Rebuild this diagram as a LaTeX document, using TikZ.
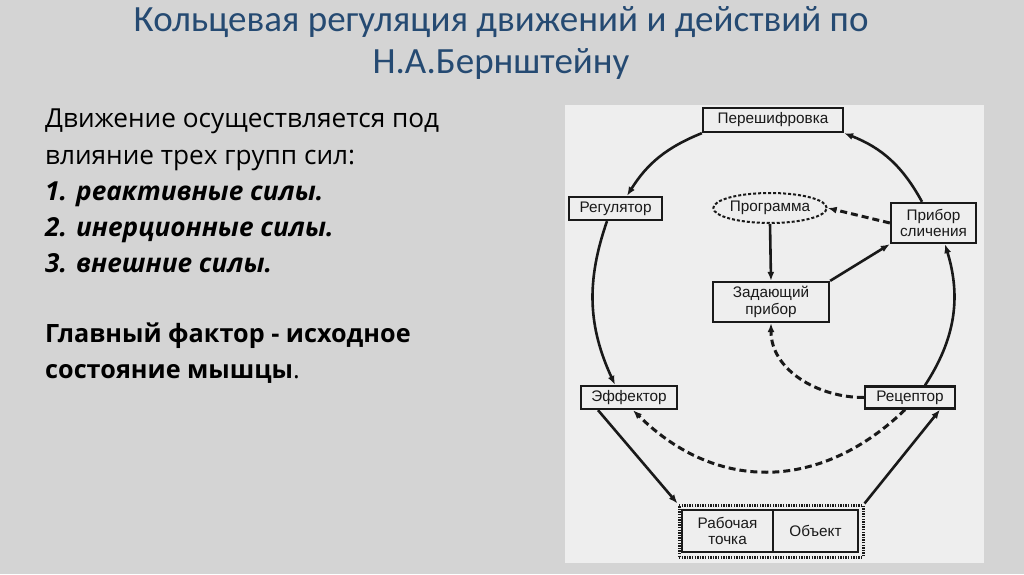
\documentclass[tikz,border=0pt]{standalone}
\usepackage{fontspec}
\setmainfont{Open Sans}
\newfontfamily\titlefont{Carlito}
\newfontfamily\boxfont{Liberation Sans}
\usetikzlibrary{arrows.meta,shapes.geometric}
\definecolor{slidebg}{RGB}{212,212,212}
\definecolor{panelbg}{RGB}{238,238,238}
\definecolor{titleblue}{RGB}{37,74,114}
\definecolor{ink}{RGB}{25,25,25}
\begin{document}
\begin{tikzpicture}[x=1pt,y=1pt,
  box/.style={draw=ink,line width=2.3pt,fill=panelbg,inner sep=0pt,align=center,
    font=\boxfont\fontsize{15.3}{16.5}\selectfont,text=ink},
  conn/.style={draw=ink,line width=2.6pt,-{Latex[length=9pt,width=7pt]}},
  dconn/.style={conn,line width=3pt,dash pattern=on 7pt off 4pt},
  lefttext/.style={anchor=base west,inner sep=0pt,text=black,font=\fontsize{26.2}{30}\selectfont},
  titletext/.style={anchor=base,inner sep=0pt,text=titleblue,font=\titlefont\fontsize{37}{44}\selectfont}]
\useasboundingbox[fill=slidebg] (0,0) rectangle (1024,574);
% title
\node[titletext] (title1) at (501,542) {Кольцевая регуляция движений и действий по};
\node[titletext] (title2) at (501,500) {Н.А.Бернштейну};
% left text
\node[lefttext] (t1) at (45,446) {Движение осуществляется под};
\node[lefttext] (t2) at (45,409.5) {влияние трех групп сил:};
\node[lefttext] (t3) at (45,373.5) {\bfseries\itshape 1. реактивные силы.};
\node[lefttext] (t4) at (45,337.5) {\bfseries\itshape 2. инерционные силы.};
\node[lefttext] (t5) at (45,301.5) {\bfseries\itshape 3. внешние силы.};
\node[lefttext,font=\fontsize{25.2}{30}\selectfont] (t6) at (45,232) {\bfseries Главный фактор - исходное};
\node[lefttext,font=\fontsize{25.2}{30}\selectfont] (t7) at (45,196) {\textbf{состояние мышцы}.};
% panel
\fill[panelbg] (565,11) rectangle (984,469);
% nodes
\node[box,minimum width=140pt,minimum height=24pt] (pere) at (773,454) {Перешифровка};
\node[box,minimum width=93pt,minimum height=23pt] (reg) at (615.5,365.5) {Регулятор};
\node[ellipse,draw=ink,dash pattern=on 3pt off 2pt,line width=2pt,fill=panelbg,
  minimum width=106pt,minimum height=30pt,inner sep=0pt,
  font=\boxfont\fontsize{15.3}{16.5}\selectfont,text=ink] (prog) at (770,366) {Программа};
\node[box,minimum width=85pt,minimum height=40pt] (prib) at (933.5,351) {Прибор\\сличения};
\node[box,minimum width=116pt,minimum height=40pt] (zad) at (771,272) {Задающий\\прибор};
\node[box,minimum width=96pt,minimum height=23pt] (eff) at (629,176.5) {Эффектор};
\node[box,minimum width=90pt,minimum height=22pt] (rec) at (910,176.5) {Рецептор};
\node[draw=ink,line width=3pt,dash pattern=on 1.4pt off 1.2pt,fill=panelbg,
  minimum width=184pt,minimum height=52pt,inner sep=0pt] (wp) at (771,43) {};
\node[box,minimum width=91pt,minimum height=42pt] (rab) at (727.5,43) {Рабочая\\точка};
\node[box,minimum width=85pt,minimum height=42pt] (obj) at (815.5,43) {Объект};
% connectors
\draw[conn] (pere.south west) to[bend right=18] ([xshift=11.5pt]reg.north);
\draw[conn] ([xshift=-8.5pt]reg.south) to[bend right=22] ([xshift=-14pt]eff.north);
\draw[conn] ([xshift=-31pt]eff.south) -- (wp.north west);
\draw[conn] (wp.north east) -- ([xshift=30pt]rec.south);
\draw[conn] ([xshift=15pt]rec.north) to[bend right=25] ([xshift=11.5pt]prib.south);
\draw[conn] ([xshift=-11.5pt]prib.north) to[bend right=20] (pere.south east);
\draw[conn] (zad.north east) -- (prib.south west);
\draw[conn] (prog.south) -- (zad.north);
\draw[dconn] (prib.west) -- (prog.east);
\draw[dconn] (rec.west) to[out=180,in=-90] (zad.south);
\draw[dconn] ([xshift=-5pt]rec.south) .. controls (822,84) and (718,80) .. ([xshift=4pt]eff.south);
\end{tikzpicture}
\end{document}
